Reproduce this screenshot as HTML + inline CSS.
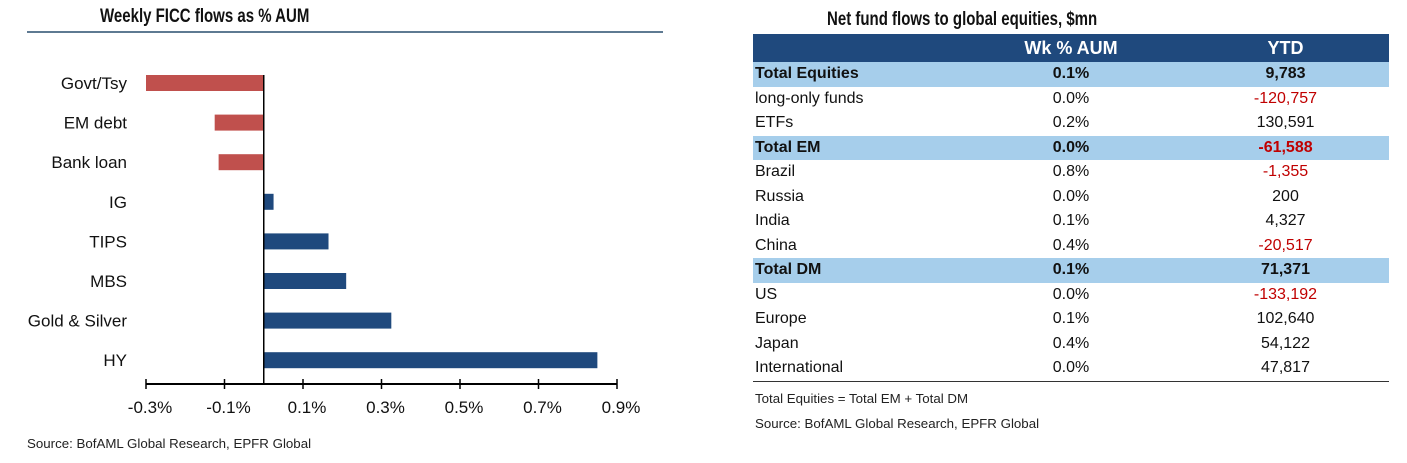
<!DOCTYPE html>
<html><head><meta charset="utf-8"><style>
body{margin:0;width:1407px;height:463px;background:#fff;font-family:"Liberation Sans Narrow","Liberation Sans",sans-serif;position:relative;overflow:hidden}
.t{position:absolute;white-space:nowrap}
.title{font-weight:bold;font-size:19px;color:#111;transform:scaleX(0.79);transform-origin:left;font-family:"Liberation Sans",sans-serif}
table{position:absolute;left:753px;top:34px;width:636px;border-collapse:collapse;font-size:16px;color:#111;table-layout:fixed}
td,th{height:24.5px;padding:0 0 0 2px;line-height:24px}
th{background:#1F497D;color:#fff;font-size:18px;height:28px}
td.c,th.c{text-align:center}
tr.hl td{background:#A6CEEB;font-weight:bold}
.neg{color:#C00000}
.src{font-size:13.3px;color:#222}
</style></head><body>
<div class="t title" style="left:100px;top:6px">Weekly FICC flows as % AUM</div>
<div style="position:absolute;left:27px;top:31px;width:636px;height:2px;background:#5E7A92"></div>
<svg id="ch" width="700" height="463" style="position:absolute;left:0;top:0;font-family:'Liberation Sans Narrow','Liberation Sans',sans-serif"></svg>
<div class="t src" style="left:27px;top:436px">Source: BofAML Global Research, EPFR Global</div>

<div class="t title" style="left:827px;top:9px">Net fund flows to global equities, $mn</div>
<table>
<colgroup><col style="width:207px"><col style="width:220px"><col style="width:209px"></colgroup>
<tr><th></th><th class="c">Wk % AUM</th><th class="c">YTD</th></tr>
<tr class="hl"><td>Total Equities</td><td class="c">0.1%</td><td class="c">9,783</td></tr>
<tr><td>long-only funds</td><td class="c">0.0%</td><td class="c neg">-120,757</td></tr>
<tr><td>ETFs</td><td class="c">0.2%</td><td class="c">130,591</td></tr>
<tr class="hl"><td>Total EM</td><td class="c">0.0%</td><td class="c neg">-61,588</td></tr>
<tr><td>Brazil</td><td class="c">0.8%</td><td class="c neg">-1,355</td></tr>
<tr><td>Russia</td><td class="c">0.0%</td><td class="c">200</td></tr>
<tr><td>India</td><td class="c">0.1%</td><td class="c">4,327</td></tr>
<tr><td>China</td><td class="c">0.4%</td><td class="c neg">-20,517</td></tr>
<tr class="hl"><td>Total DM</td><td class="c">0.1%</td><td class="c">71,371</td></tr>
<tr><td>US</td><td class="c">0.0%</td><td class="c neg">-133,192</td></tr>
<tr><td>Europe</td><td class="c">0.1%</td><td class="c">102,640</td></tr>
<tr><td>Japan</td><td class="c">0.4%</td><td class="c">54,122</td></tr>
<tr style="border-bottom:1px solid #333"><td>International</td><td class="c">0.0%</td><td class="c">47,817</td></tr>
</table>
<div class="t src" style="left:755px;top:391px">Total Equities = Total EM + Total DM</div>
<div class="t src" style="left:755px;top:416px">Source: BofAML Global Research, EPFR Global</div>
<script>
const categories=["Govt/Tsy","EM debt","Bank loan","IG","TIPS","MBS","Gold & Silver","HY"];
const values=[-0.30,-0.125,-0.115,0.025,0.165,0.21,0.325,0.85];
const ticks=[-0.3,-0.1,0.1,0.3,0.5,0.7,0.9];
const tickLabels=["-0.3%","-0.1%","0.1%","0.3%","0.5%","0.7%","0.9%"];
const NS="http://www.w3.org/2000/svg",svg=document.getElementById('ch');
const x=v=>146+(v+0.3)/1.2*471;
const y=i=>83+i*39.6;
function mk(t,a){const e=document.createElementNS(NS,t);for(const k in a)e.setAttribute(k,a[k]);svg.appendChild(e);return e;}
categories.forEach((c,i)=>{
 const v=values[i];
 const r=mk('rect',{x:Math.min(x(0),x(v)),y:y(i)-8,width:Math.abs(x(v)-x(0)),height:16,fill:v<0?'#C0504D':'#1F497D'});
 
 
 const t=mk('text',{x:127,y:y(i)+6,'text-anchor':'end','font-size':17,fill:'#111'});
 t.textContent=c;
 
 
});
const z=mk('line',{x1:x(0),x2:x(0),y1:75,y2:384,stroke:'#000','stroke-width':1.5});


const ax=mk('line',{x1:x(-0.3),x2:x(0.9),y1:384,y2:384,stroke:'#000','stroke-width':2});


ticks.forEach((v,i)=>{
 const l=mk('line',{x1:x(v),x2:x(v),y1:379,y2:389,stroke:'#000','stroke-width':1.5});
 
 
 const t=mk('text',{x:x(v)+4,y:413,'text-anchor':'middle','font-size':17,fill:'#111'});
 t.textContent=tickLabels[i];
 
 
});
</script>
</body></html>
